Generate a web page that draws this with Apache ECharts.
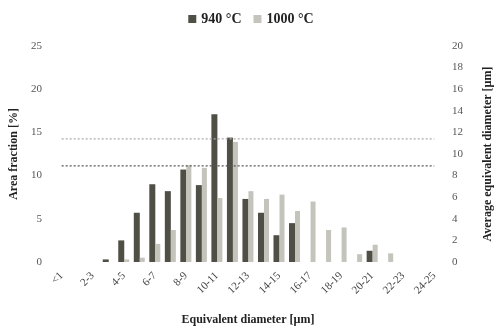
<!DOCTYPE html>
<html>
<head>
<meta charset="utf-8">
<script src="https://cdn.jsdelivr.net/npm/echarts@6/dist/echarts.min.js"></script>
<style>
  html, body { margin: 0; padding: 0; background: #fff; }
  #chart { width: 502px; height: 331px; }
</style>
</head>
<body>
<div id="chart"></div>
<script>
const categories = ["<1", "1-2", "2-3", "3-4", "4-5", "5-6", "6-7", "7-8", "8-9", "9-10",
  "10-11", "11-12", "12-13", "13-14", "14-15", "15-16", "16-17", "17-18", "18-19", "19-20",
  "20-21", "21-22", "22-23", "23-24", "24-25"];
// area fraction [%]
const area940 = [0, 0, 0, 0.3, 2.5, 5.7, 9.0, 8.2, 10.7, 8.9, 17.1, 14.4, 7.3, 5.7, 3.1, 4.5,
  0, 0, 0, 0, 1.3, 0, 0, 0, 0];
const area1000 = [0, 0, 0, 0, 0.3, 0.5, 2.1, 3.7, 11.2, 10.9, 7.4, 13.9, 8.2, 7.3, 7.8, 5.9,
  7.0, 3.7, 4.0, 0.9, 2.0, 1.0, 0, 0, 0];
// average equivalent diameter [µm]
const avg940 = 8.9;
const avg1000 = 11.4;

const serif = "Liberation Serif";
const chart = echarts.init(document.getElementById("chart"));

const option = {
  animation: false,
  textStyle: { fontFamily: serif },
  legend: {
    top: 7,
    left: "center",
    itemWidth: 8,
    itemHeight: 8,
    itemGap: 12,
    textStyle: { fontFamily: serif, fontWeight: "bold", fontSize: 14, color: "#222" },
    data: [
      { name: "940 °C", icon: "rect" },
      { name: "1000 °C", icon: "rect" }
    ]
  },
  grid: { left: 50, right: 60, top: 46, bottom: 61 },
  xAxis: {
    type: "category",
    data: categories,
    axisLine: { show: false },
    axisTick: { show: false },
    axisLabel: {
      interval: 1,
      rotate: 45,
      fontFamily: serif,
      fontSize: 11,
      color: "#444",
      margin: 12
    },
    name: "Equivalent diameter [µm]",
    nameLocation: "middle",
    nameGap: 52,
    nameTextStyle: { fontFamily: serif, fontWeight: "bold", fontSize: 12, color: "#222" }
  },
  yAxis: [
    {
      type: "value",
      min: 0,
      max: 25,
      interval: 5,
      splitLine: { show: false },
      axisLine: { show: false },
      axisLabel: { fontFamily: serif, fontSize: 11, color: "#555", margin: 12 },
      name: "Area fraction [%]",
      nameLocation: "middle",
      nameGap: 32,
      nameTextStyle: { fontFamily: serif, fontWeight: "bold", fontSize: 12, color: "#222" }
    },
    {
      type: "value",
      min: 0,
      max: 20,
      interval: 2,
      splitLine: { show: false },
      axisLine: { show: false },
      axisLabel: { fontFamily: serif, fontSize: 11, color: "#555", margin: 10 },
      name: "Average equivalent diameter [µm]",
      nameLocation: "middle",
      nameGap: 40,
      nameRotate: 90,
      nameTextStyle: { fontFamily: serif, fontWeight: "bold", fontSize: 12, color: "#222" }
    }
  ],
  series: [
    {
      name: "940 °C",
      type: "bar",
      data: area940,
      barWidth: 6,
      barGap: "0%",
      itemStyle: { color: "#4f4f45" }
    },
    {
      name: "1000 °C",
      type: "bar",
      data: area1000,
      barWidth: 5,
      barGap: "0%",
      itemStyle: { color: "#c4c4bc" }
    },
    {
      name: "avg940",
      type: "line",
      yAxisIndex: 1,
      data: categories.map(() => avg940),
      symbol: "none",
      lineStyle: { type: [2, 2], width: 1.2, color: "#555" }
    },
    {
      name: "avg1000",
      type: "line",
      yAxisIndex: 1,
      data: categories.map(() => avg1000),
      symbol: "none",
      lineStyle: { type: [2, 2], width: 1.2, color: "#aaa" }
    }
  ]
};

chart.setOption(option);
</script>
</body>
</html>
